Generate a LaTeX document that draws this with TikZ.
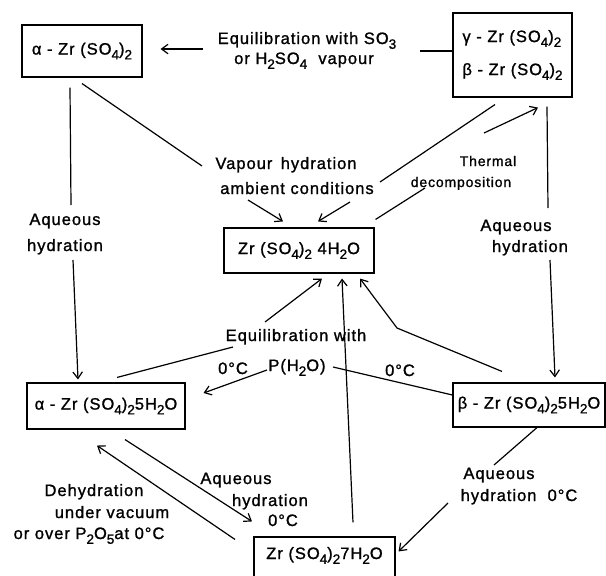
\documentclass[tikz,border=0pt]{standalone}
\usepackage{fontspec}
\setmainfont[LetterSpace=6, FakeBold=1.2]{Liberation Sans}
\usetikzlibrary{arrows.meta}
\newcommand\dn[1]{\raisebox{-0.55ex}{\fontsize{13.5}{13.5}\selectfont #1}}
\begin{document}
\begin{tikzpicture}[x=1pt,y=1pt,
  font=\fontsize{16.5}{20}\selectfont,
  box/.style={draw, line width=1.1pt, inner sep=0pt, align=center},
  lbl/.style={inner sep=0pt, anchor=base},
  ln/.style={line width=1.2pt},
  arr/.style={ln, -{Straight Barb[length=6.5pt,width=9.5pt,line width=1.2pt]}}]
\useasboundingbox (0,0) rectangle (606,-576);

% boxes
\node[box, minimum width=120pt, minimum height=52pt] (alpha) at (82,-51) {α - Zr (SO\dn{4})\dn{2}};
\node[box, minimum width=119pt, minimum height=84pt, align=left] (gb) at (512.5,-55) {γ - Zr (SO\dn{4})\dn{2}\\[13pt]β - Zr (SO\dn{4})\dn{2}};
\node[box, minimum width=150pt, minimum height=45pt] (h4) at (299,-250.5) {Zr (SO\dn{4})\dn{2} 4H\dn{2}O};
\node[box, minimum width=158pt, minimum height=46pt] (a5) at (106,-406) {α - Zr (SO\dn{4})\dn{2}5H\dn{2}O};
\node[box, minimum width=152pt, minimum height=44pt] (b5) at (529,-405) {β - Zr (SO\dn{4})\dn{2}5H\dn{2}O};
\node[box, minimum width=141pt, text height=22pt, text depth=26pt, anchor=base] (h7) at (324.5,-559) {Zr (SO\dn{4})\dn{2}7H\dn{2}O};

% labels
\node[lbl] (eqa) at (307,-44) {Equilibration with SO\dn{3}};
\node[lbl] (eqb) at (304,-64) {or H\dn{2}SO\dn{4}\ \ vapour};
\node[lbl] (vha) at (286,-169) {Vapour\, hydration};
\node[lbl] (vhb) at (297,-194) {ambient conditions};
\node[lbl, font=\fontsize{14}{16}\selectfont] (tda) at (488,-166) {Thermal};
\node[lbl, font=\fontsize{14}{16}\selectfont] (tdb) at (461,-187) {decomposition};
\node[lbl] (lqa) at (65,-225) {Aqueous};
\node[lbl] (lqb) at (65,-251) {hydration};
\node[lbl] (rqa) at (516,-231) {Aqueous};
\node[lbl] (rqb) at (530,-252) {hydration};
\node[lbl] (ewa) at (296,-341) {Equilibration with};
\node[lbl] (ewb) at (297,-371) {P(H\dn{2}O)};
\node[lbl] (z1) at (233,-374) {0°C};
\node[lbl] (z2) at (400,-376) {0°C};
\node[lbl] (maa) at (236,-484) {Aqueous};
\node[lbl] (mab) at (270,-506) {hydration};
\node[lbl] (mac) at (283,-526) {0°C};
\node[lbl] (dha) at (94,-496) {Dehydration};
\node[lbl] (dhb) at (112,-518) {under vacuum};
\node[lbl] (dhc) at (89,-539) {or over P\dn{2}O\dn{5}at 0°C};
\node[lbl] (raa) at (499,-479) {Aqueous};
\node[lbl] (rab) at (519,-501) {hydration\ \ 0°C};

% free ends
\coordinate (c1) at (203,-49);
\coordinate (c2) at (420,-51);
\coordinate (v1) at (202,-166);
\coordinate (v2) at (380,-182);
\coordinate (a1) at (248,-200);
\coordinate (a2) at (350,-202);
\coordinate (th1) at (425,-188);
\coordinate (th2) at (484,-133);
\coordinate (l1) at (71,-205);
\coordinate (l2) at (73,-260);
\coordinate (r1) at (548,-208);
\coordinate (r2) at (550,-260);
\coordinate (e1) at (233,-347);
\coordinate (e2) at (265,-322);
\coordinate (p1) at (267,-370);
\coordinate (p2) at (333,-367);
\coordinate (k1) at (397,-328);
\coordinate (q1) at (494,-465);
\coordinate (q2) at (448,-503);

% connectors
\draw[arr, shorten >=18pt] (c1) -- (alpha.east |- c1);
\draw[ln] (c2) -- (gb.west |- c2);
\draw[ln] ([yshift=-6pt]alpha.south) -- (v1);
\draw[ln] ([xshift=-17.5pt,yshift=-7pt]gb.south) -- (v2);
\draw[arr] (a1) -- ([xshift=-16pt,yshift=6pt]h4.north);
\draw[arr] (a2) -- ([xshift=19pt,yshift=6pt]h4.north);
\draw[ln] ([xshift=1pt,yshift=8pt]h4.north east) -- (th1);
\draw[arr] (th2) -- ([xshift=25.5pt,yshift=-10pt]gb.south);
\draw[ln] ([xshift=-12pt,yshift=-10pt]alpha.south) -- (l1);
\draw[arr] (l2) -- ([xshift=-28pt,yshift=3pt]a5.north);
\draw[ln] ([xshift=34.5pt,yshift=-9pt]gb.south) -- (r1);
\draw[arr] (r2) -- ([xshift=26pt,yshift=5pt]b5.north);
\draw[ln] ([xshift=11pt,yshift=5pt]a5.north) -- (e1);
\draw[arr] (e2) -- ([xshift=23pt,yshift=-5pt]h4.south);
\draw[arr] (p1) -- ([xshift=18pt,yshift=13pt]a5.east);
\draw[ln] (p2) -- ([yshift=10pt]b5.west);
\draw[arr] ([xshift=-27pt,yshift=11pt]b5.north) -- (k1) -- ([xshift=61pt,yshift=-5pt]h4.south);
\draw[arr] ([xshift=28.5pt,yshift=14pt]h7.north) -- ([xshift=43pt,yshift=-5pt]h4.south);
\draw[arr] ([xshift=19pt,yshift=-10pt]a5.south) -- ([xshift=-72.5pt,yshift=15pt]h7.north);
\draw[arr] ([xshift=-89.5pt,yshift=-3pt]h7.north) -- ([xshift=-9pt,yshift=-16pt]a5.south);
\draw[ln] ([xshift=8pt]b5.south) -- (q1);
\draw[arr] (q2) -- ([xshift=3pt,yshift=-15pt]h7.north east);
\end{tikzpicture}
\end{document}
